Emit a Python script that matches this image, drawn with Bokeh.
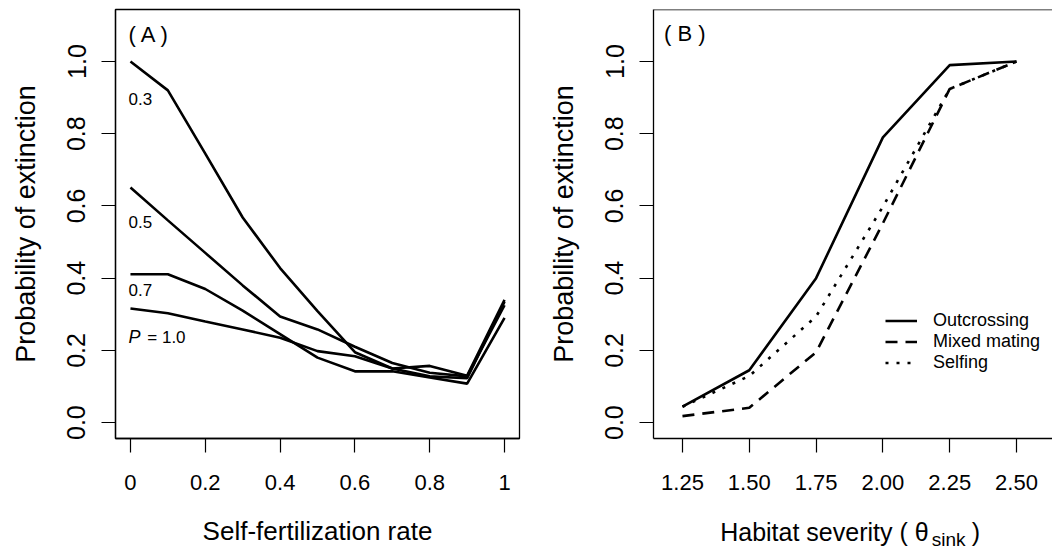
from bokeh.plotting import figure
from bokeh.layouts import row, column
from bokeh.models import Range1d, FixedTicker, Label, Legend, LegendItem, Span
from bokeh.embed import file_html
from bokeh.resources import INLINE

# ---------------- data ----------------
self_rate = [0.0, 0.1, 0.2, 0.3, 0.4, 0.5, 0.6, 0.7, 0.8, 0.9, 1.0]
ext_p03 = [1.00, 0.92, 0.745, 0.568, 0.428, 0.309, 0.195, 0.150, 0.128, 0.123, 0.335]
ext_p05 = [0.651, 0.56, 0.47, 0.38, 0.294, 0.258, 0.210, 0.165, 0.138, 0.128, 0.325]
ext_p07 = [0.411, 0.411, 0.37, 0.31, 0.245, 0.180, 0.142, 0.142, 0.125, 0.108, 0.290]
ext_p10 = [0.316, 0.303, 0.28, 0.258, 0.235, 0.198, 0.184, 0.150, 0.157, 0.130, 0.340]
p_labels = ["0.3", "0.5", "0.7", "1.0"]

hab_severity = [1.25, 1.50, 1.75, 2.00, 2.25, 2.50]
ext_outcrossing = [0.044, 0.145, 0.400, 0.790, 0.990, 1.000]
ext_mixed = [0.018, 0.041, 0.195, 0.552, 0.924, 1.000]
ext_selfing = [0.044, 0.129, 0.294, 0.598, 0.924, 1.000]
series_names = ["Outcrossing", "Mixed mating", "Selfing"]

xticks_a = [0, 0.2, 0.4, 0.6, 0.8, 1.0]
xtick_labels_a = ["0", "0.2", "0.4", "0.6", "0.8", "1"]
xticks_b = [1.25, 1.50, 1.75, 2.00, 2.25, 2.50]
xtick_labels_b = ["1.25", "1.50", "1.75", "2.00", "2.25", "2.50"]
yticks = [0.0, 0.2, 0.4, 0.6, 0.8, 1.0]
ytick_labels = ["0.0", "0.2", "0.4", "0.6", "0.8", "1.0"]

FONT = "Liberation Sans"
YR = (-0.044, 1.144)
XR_B = (1.1416, 2.6346)


def style(p, xticks, xlabels, xlabel):
    p.grid.visible = False
    for ax in (p.xaxis[0], p.yaxis[0]):
        ax.major_tick_in = 0
        ax.major_tick_out = 14
        ax.minor_tick_line_color = None
        ax.major_tick_line_color = "black"
        ax.major_tick_line_width = 1.2
        ax.axis_line_color = "black"
        ax.axis_line_width = 1.3
        ax.major_label_text_color = "black"
        ax.major_label_text_font = FONT
        ax.axis_label_text_font = FONT
        ax.axis_label_text_font_style = "normal"
        ax.axis_label_text_color = "black"
    xa = p.xaxis[0]
    xa.ticker = FixedTicker(ticks=xticks)
    xa.major_label_overrides = {t: l for t, l in zip(xticks, xlabels)}
    xa.major_label_text_font_size = "22px"
    xa.major_label_standoff = 22
    if xlabel:
        xa.axis_label = xlabel
        xa.axis_label_text_font_size = "26px"
        xa.axis_label_standoff = 23
    else:
        xa.axis_label_standoff = 0
    ya = p.yaxis[0]
    ya.ticker = FixedTicker(ticks=yticks)
    ya.major_label_overrides = {t: l for t, l in zip(yticks, ytick_labels)}
    ya.major_label_text_font_size = "25px"
    ya.major_label_orientation = "vertical"
    ya.major_label_standoff = 16
    ya.axis_label = "Probability of extinction"
    ya.axis_label_text_font_size = "27px"
    ya.axis_label_standoff = 24


# ---------------- panel A ----------------
pA = figure(width=535, height=550, x_range=Range1d(-0.04, 1.04), y_range=Range1d(*YR),
            output_backend="svg", toolbar_location=None,
            min_border_left=115, min_border_right=16, min_border_top=9, min_border_bottom=112)
pA.outline_line_color = "black"
pA.outline_line_width = 1.3
style(pA, xticks_a, xtick_labels_a, "Self-fertilization rate")

for ys in (ext_p03, ext_p05, ext_p07, ext_p10):
    pA.line(self_rate, ys, line_color="black", line_width=2.6)

pA.add_layout(Label(x=-0.005, y=1.075, text="( A )", text_font=FONT, text_font_size="22px",
                    text_baseline="middle", text_align="left", text_color="black"))
label_y = [0.895, 0.556, 0.368]
for txt, yy in zip(p_labels[:3], label_y):
    pA.add_layout(Label(x=-0.005, y=yy, text=txt, text_font=FONT, text_font_size="17px",
                        text_baseline="middle", text_align="left", text_color="black"))
pA.add_layout(Label(x=-0.005, y=0.236, text="P", text_font=FONT, text_font_size="18px",
                    text_font_style="italic", text_baseline="middle", text_align="left",
                    text_color="black"))
pA.add_layout(Label(x=0.045, y=0.236, text="= " + p_labels[3], text_font=FONT,
                    text_font_size="17px", text_baseline="middle", text_align="left",
                    text_color="black"))

# ---------------- panel B ----------------
pB = figure(width=517, height=510, x_range=Range1d(*XR_B), y_range=Range1d(*YR),
            output_backend="svg", toolbar_location=None,
            min_border_left=118, min_border_right=0, min_border_top=9, min_border_bottom=72)
pB.outline_line_color = None
style(pB, xticks_b, xtick_labels_b, None)
pB.add_layout(Span(location=YR[1], dimension="width", line_color="black", line_width=1.3))

r1 = pB.line(hab_severity, ext_outcrossing, line_color="black", line_width=2.6)
r2 = pB.line(hab_severity, ext_mixed, line_color="black", line_width=2.6, line_dash="12 8")
r3 = pB.line(hab_severity, ext_selfing, line_color="black", line_width=2.6, line_dash="3 8")

legend = Legend(items=[LegendItem(label=n, renderers=[r]) for n, r in zip(series_names, (r1, r2, r3))],
                location=(232, 65), border_line_color=None, background_fill_alpha=0,
                padding=0, margin=0, spacing=0, glyph_width=32, glyph_height=21,
                label_height=21, label_standoff=16, label_text_font=FONT,
                label_text_font_size="18px", label_text_color="black")
pB.add_layout(legend)

pB.add_layout(Label(x=1.181, y=1.0775, text="( B )", text_font=FONT, text_font_size="22px",
                    text_baseline="middle", text_align="left", text_color="black"))

# x-axis title of panel B (with subscript) in a strip below panel B;
# its frame is aligned with panel B's frame, so it shares panel B's x range
pT = figure(width=517, height=40, x_range=Range1d(*XR_B), y_range=Range1d(0, 40),
            output_backend="svg", toolbar_location=None, x_axis_location=None,
            y_axis_location=None, min_border=0, title=None)
pT.outline_line_color = None
pT.grid.visible = False
pT.add_layout(Label(x=2.171, y=18.5, text="Habitat severity ( \u03b8", text_font=FONT,
                    text_font_size="25px", text_baseline="middle", text_align="right",
                    text_color="black"))
pT.add_layout(Label(x=2.1825, y=11, text="sink", text_font=FONT, text_font_size="19px",
                    text_baseline="middle", text_align="left", text_color="black"))
pT.add_layout(Label(x=2.3321, y=18.5, text=")", text_font=FONT, text_font_size="25px",
                    text_baseline="middle", text_align="left", text_color="black"))

layout = row(pA, column(pB, pT))
open("out.html", "w").write(file_html(layout, INLINE))
